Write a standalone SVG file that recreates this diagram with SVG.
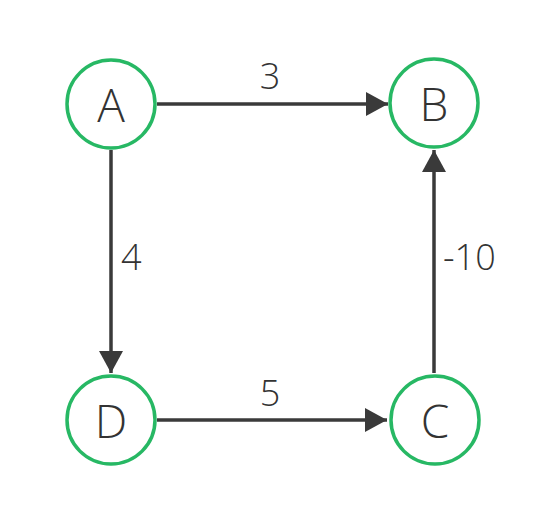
<svg xmlns="http://www.w3.org/2000/svg" width="542" height="511" viewBox="0 0 542 511">
<defs>
<style>
.node circle{fill:#fff;stroke:#27b864;stroke-width:3.5}
.node text{font-family:"Open Sans","DejaVu Sans",sans-serif;font-weight:300;font-size:46px;fill:#333;text-anchor:middle;dominant-baseline:central}
.edge{stroke:#3a3a3a;stroke-width:3.5;fill:none}
.lbl{font-family:"Open Sans","DejaVu Sans",sans-serif;font-weight:300;font-size:36px;fill:#333}
</style>
<marker id="arr" viewBox="0 0 22 24" refX="22" refY="12" markerWidth="22" markerHeight="24" markerUnits="userSpaceOnUse" orient="auto">
<path d="M0,0 L22,12 L0,24 Z" fill="#3a3a3a"/>
</marker>
</defs>
<rect width="542" height="511" fill="#fff"/>
<g id="connectors">
<line class="edge" x1="157" y1="104" x2="388" y2="104" marker-end="url(#arr)"/>
<line class="edge" x1="111" y1="150" x2="111" y2="373" marker-end="url(#arr)"/>
<line class="edge" x1="157" y1="420" x2="387" y2="420" marker-end="url(#arr)"/>
<line class="edge" x1="434" y1="373" x2="434" y2="150" marker-end="url(#arr)"/>
<text class="lbl" x="270" y="89" text-anchor="middle">3</text>
<text class="lbl" x="121" y="270">4</text>
<text class="lbl" x="443" y="270">-10</text>
<text class="lbl" x="270" y="406" text-anchor="middle">5</text>
</g>
<g id="A" class="node"><circle cx="111" cy="104" r="44"/><text x="111" y="104">A</text></g>
<g id="B" class="node"><circle cx="434" cy="103" r="44"/><text x="434" y="103">B</text></g>
<g id="D" class="node"><circle cx="111" cy="420" r="44"/><text x="111" y="420">D</text></g>
<g id="C" class="node"><circle cx="435" cy="420" r="44"/><text x="435" y="420">C</text></g>
</svg>
